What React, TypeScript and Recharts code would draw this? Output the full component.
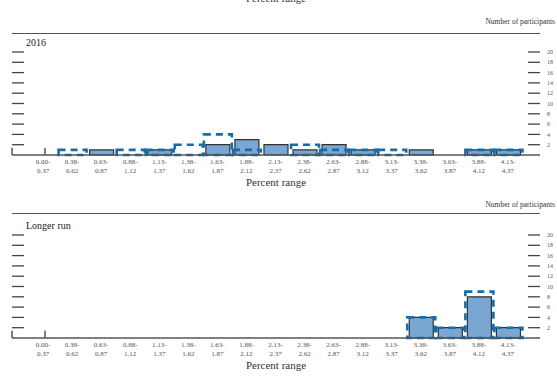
import { BarChart, Bar, XAxis, YAxis, ReferenceLine } from "recharts";

const FONT = '"Liberation Serif", "DejaVu Serif", serif';

const BINS = [
  "0.00-0.37", "0.38-0.62", "0.63-0.87", "0.88-1.12", "1.13-1.37", "1.38-1.62",
  "1.63-1.87", "1.88-2.12", "2.13-2.37", "2.38-2.62", "2.63-2.87", "2.88-3.12",
  "3.13-3.37", "3.38-3.62", "3.63-3.87", "3.88-4.12", "4.13-4.37",
];

// current projections (solid bars)
const CURRENT_2016 = [0, 0, 1, 0, 1, 0, 2, 3, 2, 1, 2, 1, 0, 1, 0, 1, 1];
const CURRENT_LONGER = [0, 0, 0, 0, 0, 0, 0, 0, 0, 0, 0, 0, 0, 4, 2, 8, 2];

// previous projections (dashed outlines)
const PREVIOUS_2016 = [0, 1, 0, 1, 1, 2, 4, 1, 0, 2, 1, 1, 1, 0, 0, 1, 1];
const PREVIOUS_LONGER = [0, 0, 0, 0, 0, 0, 0, 0, 0, 0, 0, 0, 0, 4, 2, 9, 2];

const Y_TICKS = [2, 4, 6, 8, 10, 12, 14, 16, 18, 20];

const SOLID_FILL = "#79a6d2";
const SOLID_STROKE = "#333";
const DASH_BLUE = "#176caa";
const AXIS_GRAY = "#555";

function BinTick({ x, y, payload }: any) {
  const [lo, hi] = String(payload.value).split("-");
  return (
    <g fontFamily={FONT} fontSize={7} fill="#555">
      <text x={x} y={y + 9.2} textAnchor="middle">{lo}-</text>
      <text x={x} y={y + 17.5} textAnchor="middle">{hi}</text>
    </g>
  );
}

// tick marks drawn inward from the plot edges; right side also carries the count label
function LeftTick({ y }: any) {
  return <line x1={12} x2={24} y1={y} y2={y} stroke="#444" strokeWidth={1.3} />;
}

function RightTick({ y, payload }: any) {
  return (
    <g>
      <line x1={528} x2={540} y1={y} y2={y} stroke="#444" strokeWidth={1.3} />
      <text x={547} y={y} dy="0.35em" fontFamily={FONT} fontSize={6} fill="#555">
        {payload.value}
      </text>
    </g>
  );
}

function Panel({ top, ruleTop, title, current, previous }: any) {
  const data = BINS.map((bin, i) => ({ bin, current: current[i], previous: previous[i] }));
  return (
    <div style={{ position: "absolute", left: 0, top, width: 557, height: 190 }}>
      <div style={{ position: "absolute", right: 2, top: 18, fontSize: 7.5, lineHeight: 1, color: "#333" }}>
        Number of participants
      </div>
      <div style={{ position: "absolute", left: 12, top: ruleTop, width: 528, borderTop: `1.5px solid ${AXIS_GRAY}` }} />
      <div style={{ position: "absolute", left: 26, top: 38, fontSize: 10, lineHeight: 1, color: "#222" }}>
        {title}
      </div>
      <BarChart width={557} height={190} data={data} margin={{ top: 52, right: 17, left: 12, bottom: 0 }}>
        <XAxis
          xAxisId="cur"
          dataKey="bin"
          interval={0}
          padding={{ left: 16.5, right: 17.5 }}
          height={35}
          axisLine={{ stroke: AXIS_GRAY, strokeWidth: 1.5 }}
          tickLine={false}
          tickSize={0}
          tickMargin={0}
          tick={<BinTick />}
          label={{ value: "Percent range", position: "insideBottom", offset: 4, fontSize: 11, fill: "#333", fontFamily: FONT }}
        />
        <XAxis xAxisId="prev" dataKey="bin" hide padding={{ left: 16.5, right: 17.5 }} />
        <XAxis xAxisId="frame" type="number" domain={[0, 1]} hide />
        <YAxis
          yAxisId="l"
          orientation="left"
          mirror
          width={30}
          domain={[0, 20]}
          ticks={Y_TICKS}
          interval={0}
          axisLine={false}
          tickLine={false}
          tick={<LeftTick />}
        />
        <YAxis
          yAxisId="r"
          orientation="right"
          mirror
          width={30}
          domain={[0, 20]}
          ticks={Y_TICKS}
          interval={0}
          axisLine={false}
          tickLine={false}
          tick={<RightTick />}
        />
        <Bar
          dataKey="current"
          xAxisId="cur"
          yAxisId="l"
          barSize={24}
          fill={SOLID_FILL}
          stroke={SOLID_STROKE}
          strokeWidth={1.2}
          isAnimationActive={false}
        />
        <Bar
          dataKey="previous"
          xAxisId="prev"
          yAxisId="r"
          barSize={28}
          fill="none"
          stroke={DASH_BLUE}
          strokeWidth={2.6}
          strokeDasharray="7 5"
          isAnimationActive={false}
        />
        <ReferenceLine xAxisId="frame" yAxisId="l" segment={[{ x: 0, y: 0 }, { x: 0, y: 1.4 }]} stroke={AXIS_GRAY} strokeWidth={1.5} />
        <ReferenceLine xAxisId="frame" yAxisId="r" segment={[{ x: 1, y: 0 }, { x: 1, y: 1.4 }]} stroke={AXIS_GRAY} strokeWidth={1.5} />
      </BarChart>
    </div>
  );
}

export default function App() {
  return (
    <div
      style={{
        position: "absolute",
        left: 0,
        top: 0,
        width: 557,
        height: 377,
        overflow: "hidden",
        background: "#fff",
        fontFamily: FONT,
      }}
    >
      {/* tail of the previous panel's axis title, cut by the page edge */}
      <div style={{ position: "absolute", left: 0, width: 552, top: -7, textAlign: "center", fontSize: 11, lineHeight: 1, color: "#333" }}>
        Percent range
      </div>
      <Panel top={0} ruleTop={33} title="2016" current={CURRENT_2016} previous={PREVIOUS_2016} />
      <Panel top={183} ruleTop={30} title="Longer run" current={CURRENT_LONGER} previous={PREVIOUS_LONGER} />
    </div>
  );
}
